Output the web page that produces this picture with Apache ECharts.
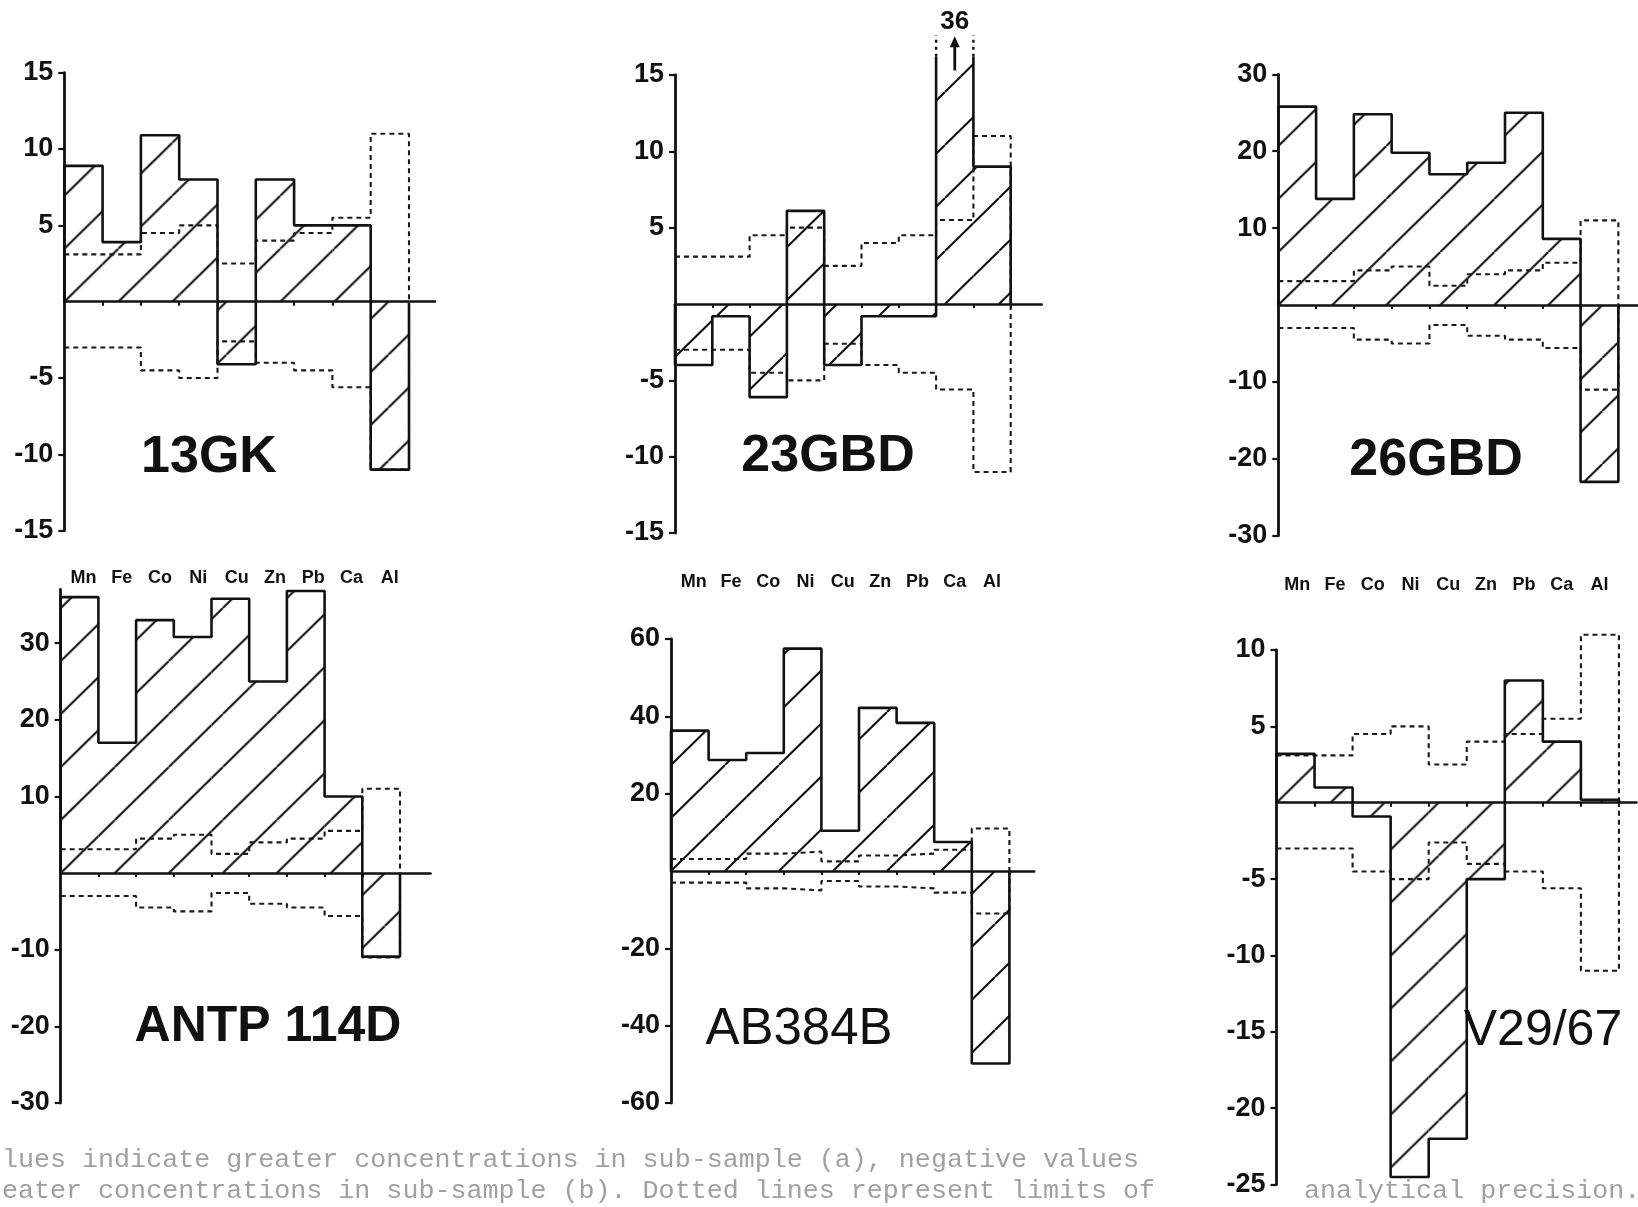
<!DOCTYPE html>
<html>
<head>
<meta charset="utf-8">
<title>Sub-sample differences</title>
<script src="https://cdn.jsdelivr.net/npm/echarts@6/dist/echarts.min.js"></script>
<style>
  html, body { margin: 0; padding: 0; background: #fff; }
  #chart { width: 1638px; height: 1207px; }
</style>
</head>
<body>
<div id="chart"></div>
<script>
// elements along the x axis
const elements = ['Mn', 'Fe', 'Co', 'Ni', 'Cu', 'Zn', 'Pb', 'Ca', 'Al'];

// difference (a) - (b) per element, one array per sample
const gk13 = [8.9, 3.9, 10.9, 8.0, -4.1, 8.0, 5.0, 5.0, -11];
const gbd23 = [-4.0, -0.8, -6.1, 6.1, -4.0, -0.8, -0.8, 36, 9.0];
const gbd26 = [25.8, 13.8, 24.8, 19.8, 17.0, 18.5, 25.0, 8.6, -23];
const antp114d = [36, 17, 33, 30.8, 35.8, 25, 36.8, 10, -10.9];
const ab384b = [36.3, 28.7, 30.5, 57.5, 10.4, 42.2, 38.3, 7.5, -49.8];
const v2967 = [3.2, 1.0, -0.9, -24.5, -22, -5.0, 8.0, 4.0, 0.2];

// limits of analytical precision (dotted lines)
const precUpper = [3.1, 3.1, 4.5, 5.0, 2.5, 4.0, 4.5, 5.5, 11];
const precLower = [-3.0, -3.0, -4.5, -5.0, -2.6, -4.0, -4.5, -5.6, -11];

// y tick labels
const ticks15 = [-15, -10, -5, 5, 10, 15];
const ticks30 = [-30, -20, -10, 10, 20, 30];
const ticks60 = [-60, -40, -20, 20, 40, 60];
const ticks25 = [-25, -20, -15, -10, -5, 5, 10];

// caption (partly cut off in the scan)
const captionLines = [
  'lues indicate greater concentrations in sub-sample (a), negative values',
  'eater concentrations in sub-sample (b). Dotted lines represent limits of'
];
const captionTail = 'analytical precision.';

// bar drawn off the top of the axis (value written above it)
const gbd23Cap = 16.2;

const panels = [
  { name: '13GK', data: gk13, ticks: ticks15, yMin: -15, yMax: 15, left: 64.3, top: 72.7, height: 458, xMax: 9.68, binW: 38.3, tx: 209, ty: 458, weight: 'bold', size: 52, elemLabels: true, labelMargin: 38 },
  { name: '23GBD', data: gbd23, ticks: ticks15, yMin: -15, yMax: 15, left: 675, top: 75, height: 458, xMax: 9.83, binW: 37.3, tx: 828, ty: 457, weight: 'bold', size: 52, elemLabels: true, labelMargin: 40, cap: gbd23Cap },
  { name: '26GBD', data: gbd26, ticks: ticks30, yMin: -30, yMax: 30, left: 1278.3, top: 74.3, height: 461.4, xMax: 9.52, binW: 37.8, tx: 1436, ty: 461, weight: 'bold', size: 52, elemLabels: true, labelMargin: 40 },
  { name: 'ANTP 114D', data: antp114d, ticks: ticks30, yMin: -30, yMax: 37, left: 60.7, top: 589.5, height: 513.5, xMax: 9.81, binW: 37.7, tx: 268, ty: 1027, weight: 'bold', size: 50 },
  { name: 'AB384B', data: ab384b, ticks: ticks60, yMin: -60, yMax: 60, left: 671, top: 639, height: 464, xMax: 9.66, binW: 37.6, tx: 799, ty: 1030, weight: '500', size: 51 },
  { name: 'V29/67', data: v2967, ticks: ticks25, yMin: -25, yMax: 10, left: 1276.5, top: 650, height: 534.6, xMax: 9.46, binW: 38.05, tx: 1543, ty: 1031, weight: '500', size: 50 }
];

const INK = '#111';
const HATCH_W = 54;
const HATCH_H = 53;

// diagonal hatch tile
function makeHatch() {
  const c = document.createElement('canvas');
  c.width = HATCH_W;
  c.height = HATCH_H;
  const ctx = c.getContext('2d');
  ctx.strokeStyle = INK;
  ctx.lineWidth = 2.1;
  ctx.beginPath();
  [-1, 0, 1].forEach(k => {
    ctx.moveTo(k * HATCH_W, HATCH_H);
    ctx.lineTo(k * HATCH_W + HATCH_W, 0);
  });
  ctx.stroke();
  return c;
}
const hatch = makeHatch();

// outline / precision steps
function stepPoints(vals, cap, closeLeft) {
  const pts = closeLeft ? [[0, 0]] : [];
  vals.forEach((v, i) => {
    if (cap != null && v > cap) {
      pts.push([i, cap], [i + 0.5, '-'], [i + 1, cap]);
    } else {
      pts.push([i, v], [i + 1, v]);
    }
  });
  pts.push([vals.length, 0]);
  return pts;
}

function barRenderer(panel) {
  return function (params, api) {
    const i = api.value(0);
    const v = api.value(1);
    const capped = panel.cap != null && v > panel.cap;
    const shown = capped ? panel.cap : v;
    const origin = api.coord([0, 0]);
    const p0 = api.coord([i, 0]);
    const p1 = api.coord([i + 1, shown]);
    const children = [{
      type: 'rect',
      shape: {
        x: p0[0],
        y: Math.min(p0[1], p1[1]),
        width: p1[0] - p0[0],
        height: Math.abs(p1[1] - p0[1])
      },
      style: {
        fill: { image: hatch, repeat: 'repeat', x: origin[0], y: origin[1] },
        stroke: null
      }
    }];
    if (capped) {
      // dotted continuation, arrow and true value
      const yc = api.coord([i, panel.cap])[1];
      const yt = api.coord([i, panel.cap + 1.4])[1];
      const dot = { stroke: INK, lineWidth: 2.4, lineDash: [3, 4] };
      children.push({ type: 'line', shape: { x1: p0[0], y1: yc, x2: p0[0], y2: yt }, style: dot });
      children.push({ type: 'line', shape: { x1: p1[0], y1: yc, x2: p1[0], y2: yt }, style: dot });
      const ax = api.coord([i + 0.5, 0])[0];
      const a0 = api.coord([i, panel.cap - 0.9])[1];
      const a1 = api.coord([i, panel.cap + 1.2])[1];
      children.push({ type: 'line', shape: { x1: ax, y1: a0, x2: ax, y2: a1 + 4 }, style: { stroke: INK, lineWidth: 2.8 } });
      children.push({ type: 'polygon', shape: { points: [[ax, a1 - 2], [ax - 5, a1 + 9], [ax + 5, a1 + 9]] }, style: { fill: INK } });
      const ty = api.coord([i, panel.cap + 2.3])[1];
      children.push({
        type: 'text',
        x: ax,
        y: ty,
        style: { text: String(v), font: 'bold 26px "Liberation Sans", Arial, sans-serif', fill: INK, align: 'center', verticalAlign: 'middle' }
      });
    }
    return { type: 'group', children };
  };
}

const grid = [];
const xAxis = [];
const yAxis = [];
const series = [];
const graphic = [];

panels.forEach((p, g) => {
  grid.push({ left: p.left, top: p.top, width: p.xMax * p.binW, height: p.height });

  // zero line with bin ticks
  xAxis.push({
    gridIndex: g, type: 'value', min: 0, max: p.xMax,
    axisLine: { onZero: true, lineStyle: { color: INK, width: 2.5 } },
    axisTick: { show: true, customValues: [1, 2, 3, 4, 5, 6, 7, 8, 9], length: 4, lineStyle: { color: INK, width: 2 } },
    axisLabel: { show: false },
    splitLine: { show: false }
  });
  yAxis.push({
    gridIndex: g, type: 'value', min: p.yMin, max: p.yMax,
    axisLine: { show: true, onZero: false, lineStyle: { color: INK, width: 2.8 } },
    axisTick: { show: true, customValues: p.ticks, length: 6, lineStyle: { color: INK, width: 2.2 } },
    axisLabel: {
      customValues: p.ticks, margin: 11, color: INK,
      fontFamily: '"Liberation Sans", Arial, sans-serif', fontWeight: 'bold', fontSize: 27
    },
    splitLine: { show: false }
  });
});

// element names under the top row
panels.forEach((p, g) => {
  if (!p.elemLabels) return;
  xAxis.push({
    gridIndex: g, type: 'value', min: 0, max: p.xMax, position: 'bottom',
    axisLine: { show: false, onZero: false },
    axisTick: { show: false },
    axisLabel: {
      customValues: elements.map((e, i) => i + 0.5),
      formatter: v => elements[Math.floor(v)],
      margin: p.labelMargin, color: INK,
      fontFamily: '"Liberation Sans", Arial, sans-serif', fontWeight: 'bold', fontSize: 18
    },
    splitLine: { show: false }
  });
});

panels.forEach((p, g) => {
  series.push({
    type: 'custom', name: p.name + ' bars', xAxisIndex: g, yAxisIndex: g,
    clip: false, z: 1,
    renderItem: barRenderer(p),
    data: p.data.map((v, i) => [i, v])
  });
  [precUpper, precLower].forEach((lim, k) => {
    series.push({
      type: 'line', name: p.name + (k ? ' lower limit' : ' upper limit'),
      xAxisIndex: g, yAxisIndex: g, z: 2, clip: false,
      symbol: 'none', silent: true,
      lineStyle: { color: '#1a1a1a', width: 2.1, type: [5, 4] },
      data: stepPoints(lim, null, false)
    });
  });
  series.push({
    type: 'line', name: p.name + ' outline', xAxisIndex: g, yAxisIndex: g,
    z: 3, clip: false, symbol: 'none', silent: true, connectNulls: false,
    lineStyle: { color: INK, width: 2.6 },
    data: stepPoints(p.data, p.cap, true)
  });
  graphic.push({
    type: 'text', x: p.tx, y: p.ty, z: 10,
    style: {
      text: p.name, fill: INK, align: 'center', verticalAlign: 'middle',
      font: p.weight + ' ' + p.size + 'px "Liberation Sans", Arial, sans-serif'
    }
  });
});

// caption
const capFont = '26.7px "Liberation Mono", "DejaVu Sans Mono", monospace';
captionLines.forEach((t, k) => {
  graphic.push({
    type: 'text', x: 2, y: 1160 + k * 31, z: 10,
    style: { text: t, fill: '#a0a0a0', font: capFont, verticalAlign: 'middle' }
  });
});
graphic.push({
  type: 'text', x: 1304, y: 1191, z: 10,
  style: { text: captionTail, fill: '#a0a0a0', font: capFont, verticalAlign: 'middle' }
});

const chart = echarts.init(document.getElementById('chart'), null, { renderer: 'canvas' });
chart.setOption({
  backgroundColor: '#fff',
  animation: false,
  grid: grid,
  xAxis: xAxis,
  yAxis: yAxis,
  series: series,
  graphic: graphic
});
</script>
</body>
</html>
